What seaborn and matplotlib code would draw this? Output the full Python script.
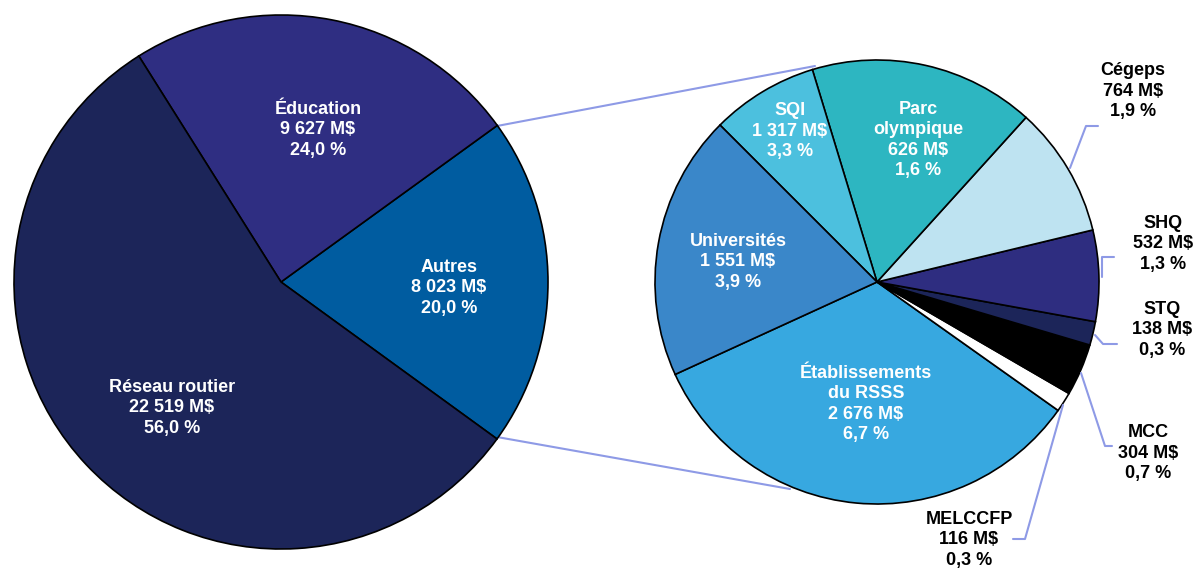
import matplotlib
matplotlib.use("Agg")
import matplotlib.pyplot as plt
import seaborn as sns

# left pie: total split
main_names = ["Autres", "Éducation", "Réseau routier"]
main_values = [8023, 9627, 22519]
main_pcts = [20.0, 24.0, 56.0]
main_colors = ["#005ca0", "#2f2e82", "#1c2559"]

# right pie: detail of "Autres" (wedge sizes in drawing order, counterclockwise)
detail_sizes = [2676, 116, 304, 138, 532, 764, 1317, 626, 1551]
detail_names = ["Établissements\ndu RSSS", "MELCCFP", "MCC", "STQ", "SHQ",
                "Cégeps", "Parc\nolympique", "SQI", "Universités"]
detail_amounts = [2676, 116, 304, 138, 532, 764, 626, 1317, 1551]
detail_pcts = [6.7, 0.3, 0.7, 0.3, 1.3, 1.9, 1.6, 3.3, 3.9]
detail_colors = ["#37a8e0", "#ffffff", "#000000", "#1c2559", "#2e2d80",
                 "#bee3f1", "#2db6c1", "#4cc0de", "#3a87c9"]


def fmt(amount, pct):
    return "{} M$\n{} %".format(f"{amount:,}".replace(",", " "),
                                f"{pct:.1f}".replace(".", ","))


sns.set_style("white")
plt.rcParams["font.family"] = ["Liberation Sans", "DejaVu Sans"]

W, H = 1201, 570
fig = plt.figure(figsize=(W / 100, H / 100), dpi=100)
ax = fig.add_axes([0, 0, 1, 1])


def Y(y):
    return H - y


wedge_kw = dict(edgecolor="black", linewidth=1.2)
ax.pie(main_values, colors=main_colors, startangle=-36, counterclock=True,
       center=(281, Y(282)), radius=267, wedgeprops=wedge_kw, frame=True)
ax.pie(detail_sizes, colors=detail_colors, startangle=204.6, counterclock=True,
       center=(877, Y(282)), radius=222, wedgeprops=wedge_kw, frame=True)

ax.set_xlim(0, W)
ax.set_ylim(0, H)
ax.set_aspect("equal")
ax.axis("off")

link = "#8e9ae6"
# connector lines between the two pies
ax.plot([497, 815], [Y(126), Y(66)], color=link, lw=1.5, zorder=0)
ax.plot([497, 790], [Y(437), Y(489)], color=link, lw=1.5, zorder=0)

txt_kw = dict(ha="center", va="center", fontsize=13, fontweight="bold",
              linespacing=1.28)

# labels of the main pie
main_pos = [(449, 288), (318, 130), (172, 408)]
for name, v, p, (x, y) in zip(main_names, main_values, main_pcts, main_pos):
    ax.text(x, Y(y), name + "\n" + fmt(v, p), color="white", **txt_kw)

# labels of the detail pie
detail_pos = [(866, 404), (969, 540), (1148, 453), (1162, 330), (1163, 244),
              (1133, 91), (918, 140), (790, 131), (738, 262)]
inside = {0, 6, 7, 8}
for i, (name, v, p, (x, y)) in enumerate(zip(detail_names, detail_amounts,
                                             detail_pcts, detail_pos)):
    ax.text(x, Y(y), name + "\n" + fmt(v, p),
            color="white" if i in inside else "black", **txt_kw)

# leader lines for the outside labels
leaders = [
    [(1070, 168), (1086, 126), (1098, 126)],
    [(1102, 277), (1102, 257), (1114, 257)],
    [(1095, 335), (1103, 344), (1117, 344)],
    [(1081, 373), (1105, 446), (1112, 446)],
    [(1063, 405), (1025, 539), (1013, 539)],
]
for pts in leaders:
    ax.plot([p[0] for p in pts], [Y(p[1]) for p in pts], color=link, lw=1.5)

fig.savefig("out.png", dpi=100)
